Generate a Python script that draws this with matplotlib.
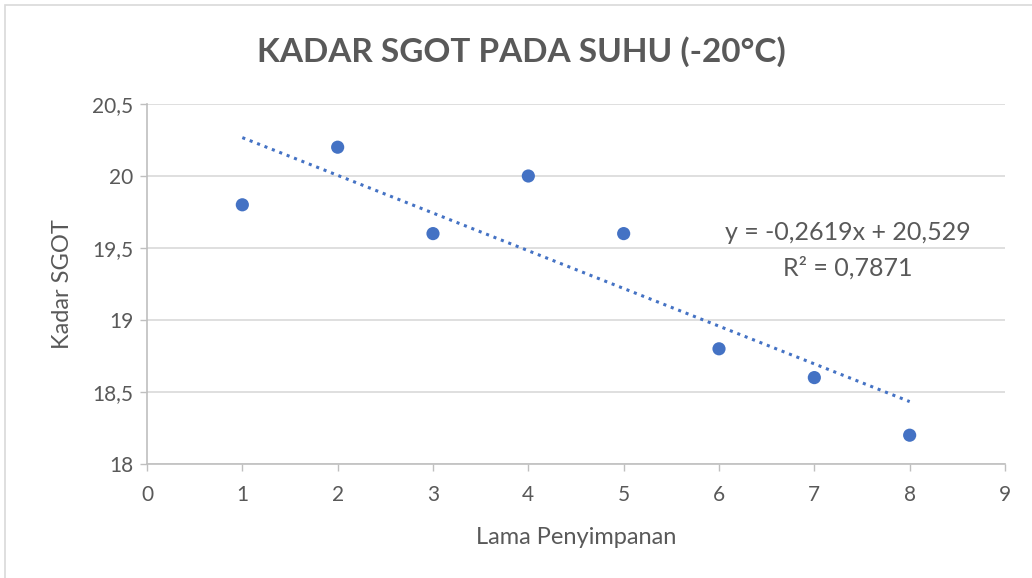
import matplotlib
matplotlib.use("Agg")
import matplotlib.pyplot as plt
from matplotlib.patches import Rectangle
import numpy as np

x_vals = [1, 2, 3, 4, 5, 6, 7, 8]
y_vals = [19.8, 20.2, 19.6, 20.0, 19.6, 18.8, 18.6, 18.2]
x_ticks = [0, 1, 2, 3, 4, 5, 6, 7, 8, 9]
y_ticks = [18, 18.5, 19, 19.5, 20, 20.5]
y_tick_labels = ["18", "18,5", "19", "19,5", "20", "20,5"]
title = "KADAR SGOT PADA SUHU (-20°C)"
x_label = "Lama Penyimpanan"
y_label = "Kadar SGOT"
eq_text = "y = -0,2619x + 20,529"
r2_text = "R² = 0,7871"

plt.rcParams['font.family'] = ['Lato', 'DejaVu Sans']
gray = '#595959'
blue = '#4472C4'

fig = plt.figure(figsize=(10.32, 5.78), dpi=100)
fig.patches.append(Rectangle((5/1032, -0.1), 1.2, 1 - 5/578 + 0.1, transform=fig.transFigure,
                             fill=False, edgecolor='#d9d9d9', linewidth=1.2))
ax = fig.add_axes([147/1032, 1 - 464/578, (1005-147)/1032, (464-104)/578])

ax.scatter(x_vals, y_vals, s=90, color=blue, zorder=3, edgecolors='none')

coef = np.polyfit(x_vals, y_vals, 1)
xt = np.array([min(x_vals), max(x_vals)])
ax.plot(xt, np.polyval(coef, xt), linestyle=(0, (1, 1.6)), color=blue, linewidth=2.2, zorder=2)

ax.set_xlim(0, 9)
ax.set_ylim(18, 20.5)
ax.set_xticks(x_ticks)
ax.set_yticks(y_ticks)
ax.set_yticklabels(y_tick_labels)
ax.grid(axis='y', color='#d9d9d9', linewidth=1.2)
ax.set_axisbelow(True)
for s in ['top', 'right']:
    ax.spines[s].set_visible(False)
for s in ['left', 'bottom']:
    ax.spines[s].set_color('#bfbfbf')
    ax.spines[s].set_linewidth(1.2)
ax.tick_params(axis='both', colors='#bfbfbf', labelcolor=gray, labelsize=15, length=5, width=1)
ax.tick_params(axis='x', pad=10)
ax.tick_params(axis='y', pad=5)

ax.set_xlabel(x_label, fontsize=17, color=gray, labelpad=16)
ax.set_ylabel(y_label, fontsize=17, color=gray, labelpad=14)

fig.text(0.505, 1 - 52/578, title, ha='center', va='center', fontsize=24, fontweight='bold', color=gray)

ax.text(7.35, 19.61, eq_text, ha='center', va='center', fontsize=18, color=gray)
ax.text(7.35, 19.36, r2_text, ha='center', va='center', fontsize=18, color=gray)

fig.savefig("out.png", dpi=100)
